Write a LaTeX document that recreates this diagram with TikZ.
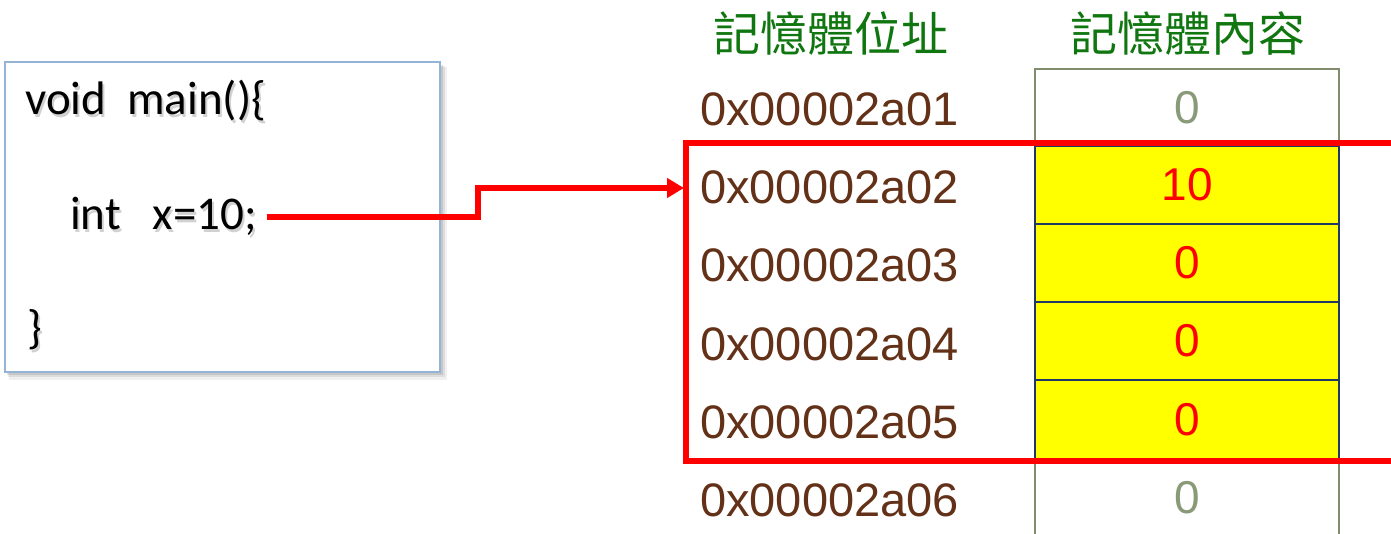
\documentclass[tikz,border=0pt]{standalone}
\usepackage{fontspec}
\setmainfont{Liberation Sans}
\newfontfamily\codefont{Carlito}
\newfontfamily\cjk{Noto Sans CJK TC}
\usetikzlibrary{arrows.meta}
\definecolor{hdrgreen}{RGB}{16,118,16}
\definecolor{addrbrown}{RGB}{99,49,23}
\definecolor{cellgrey}{RGB}{128,140,108}
\definecolor{valgrey}{RGB}{138,154,120}
\definecolor{navy}{RGB}{31,56,100}
\definecolor{boxblue}{RGB}{149,179,215}
\definecolor{hotred}{RGB}{255,0,0}
\definecolor{cellyellow}{RGB}{255,255,0}
\tikzset{
  codetext/.style={anchor=base west, inner sep=0pt, font=\codefont\fontsize{47}{50}\selectfont},
  codeshadow/.style={codetext, text=black, opacity=0.18},
  addr/.style={anchor=base west, inner sep=0pt, text=addrbrown, font=\fontsize{47}{50}\selectfont},
  header/.style={inner sep=0pt, text=hdrgreen, font=\cjk\fontsize{47}{52}\selectfont},
  plaincell/.style={draw=cellgrey, line width=2pt, fill=white, minimum width=304pt, minimum height=78pt, inner sep=0pt, text=valgrey, font=\fontsize{46}{50}\selectfont},
  hotcell/.style={draw=navy, line width=1.5pt, fill=cellyellow, minimum width=304pt, minimum height=78pt, inner sep=0pt, text=hotred, font=\fontsize{46}{50}\selectfont},
  selline/.style={draw=hotred, line width=6.5pt},
  link/.style={draw=hotred, line width=6pt, -{Triangle[length=17pt,width=19pt]}},
}
\begin{document}
\begin{tikzpicture}[x=1pt,y=-1pt]
\useasboundingbox (0,0) rectangle (1391,534);
% code box with soft shadow
\fill[black, opacity=0.06] (9,67) rectangle (447,380);
\fill[black, opacity=0.08] (8,66) rectangle (445,377);
\fill[black, opacity=0.10] (7,65) rectangle (443,375);
\node[draw=boxblue, line width=1.5pt, fill=white, minimum width=435pt, minimum height=310pt, inner sep=0pt] (codebox) at (222.5,217) {};
% code text (shadow + text)
\node[codeshadow] at (27,118) {void\ \ main()\{};
\node[codetext] (l1) at (25,115) {void\ \ main()\{};
\node[codeshadow] at (72,233) {int\ \ \ x=10;};
\node[codetext] (l2) at (70,230) {int\ \ \ x=10;};
\node[codeshadow] at (29,346) {\}};
\node[codetext] (l3) at (27,343) {\}};
% headers
\node[header] (h1) at (831,34) {記憶體位址};
\node[header] (h2) at (1188,34) {記憶體內容};
% memory cells
\node[plaincell] (c1) at (1187,108) {0};
\node[plaincell] (c6) at (1187,498) {0};
\node[hotcell] (c2) at (1187,185) {10};
\node[hotcell] (c3) at (1187,263) {0};
\node[hotcell] (c4) at (1187,341) {0};
\node[hotcell] (c5) at (1187,419.5) {0};
% addresses
\node[addr] (a1) at (700,126) {0x00002a01};
\node[addr] (a2) at (700,204) {0x00002a02};
\node[addr] (a3) at (700,282) {0x00002a03};
\node[addr] (a4) at (700,360) {0x00002a04};
\node[addr] (a5) at (700,438) {0x00002a05};
\node[addr] (a6) at (700,516) {0x00002a06};
% selection frame (open to the right)
\coordinate (selTR) at (1395,143);
\coordinate (selTL) at (686,143);
\coordinate (selBL) at (686,461);
\coordinate (selBR) at (1395,461);
\draw[selline, line join=miter] (selTR) -- (selTL) -- (selBL) -- (selBR);
% connector
\coordinate (start) at ([xshift=10pt]l2.east);
\coordinate (bendx) at (478,0);
\coordinate (tip) at (684,188);
\draw[link, line join=miter] (start) -- (start -| bendx) -- (bendx |- tip) -- (tip);
\end{tikzpicture}
\end{document}
